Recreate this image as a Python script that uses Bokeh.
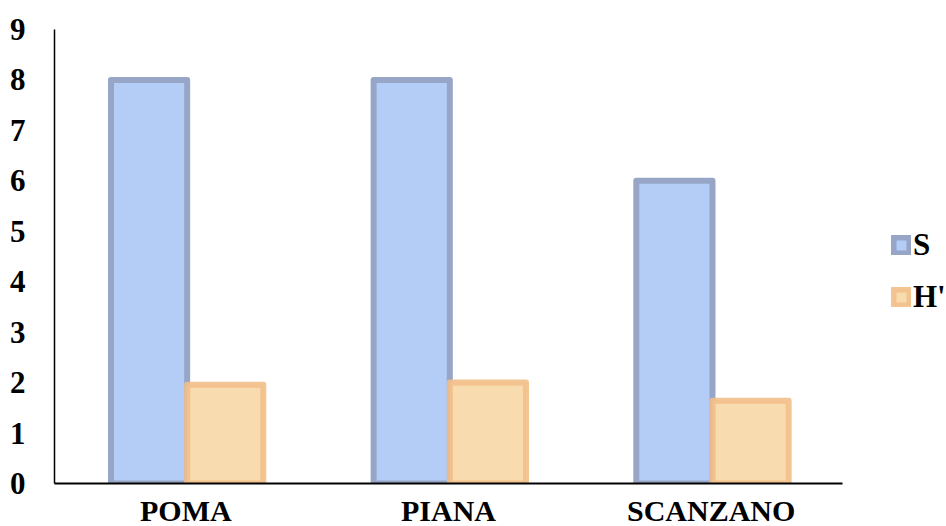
from bokeh.plotting import figure
from bokeh.models import Range1d, FactorRange, Legend, LegendItem, ColumnDataSource, FixedTicker
from bokeh.transform import dodge
from bokeh.embed import file_html
from bokeh.resources import INLINE

categories = ["POMA", "PIANA", "SCANZANO"]
s_values = [8, 8, 6]
h_values = [1.96, 2.0, 1.64]
y_ticks = [0, 1, 2, 3, 4, 5, 6, 7, 8, 9]

src = ColumnDataSource(dict(cat=categories, s=s_values, h=h_values))

p = figure(frame_width=788, frame_height=454, x_range=FactorRange(*categories, range_padding=0),
           y_range=Range1d(0, 9), output_backend="svg", toolbar_location=None,
           min_border_left=54, min_border_right=0, min_border_top=29, min_border_bottom=0)
p.outline_line_color = None
p.xgrid.grid_line_color = None
p.ygrid.grid_line_color = None
p.background_fill_color = "white"
p.border_fill_color = "white"

r1 = p.vbar(x=dodge("cat", -0.14, range=p.x_range), top="s", width=0.29, source=src,
            fill_color="#b3cdf7", line_color="#97a6c6", line_width=6, line_join="round")
r2 = p.vbar(x=dodge("cat", 0.15, range=p.x_range), top="h", width=0.29, source=src,
            fill_color="#f7d8a6", fill_alpha=0.9, line_color="#f2bf8a", line_alpha=0.9,
            line_width=6, line_join="round")

font = "Liberation Serif"
for ax in (p.xaxis[0], p.yaxis[0]):
    ax.major_label_text_font = font
    ax.major_label_text_font_style = "bold"
    ax.major_label_text_font_size = "31px"
    ax.major_label_text_color = "black"
    ax.axis_line_color = "black"
    ax.axis_line_width = 2
    ax.major_tick_line_color = None
    ax.minor_tick_line_color = None
p.yaxis[0].ticker = FixedTicker(ticks=y_ticks)
p.yaxis[0].major_label_standoff = 23
p.yaxis[0].axis_line_width = 1.5
p.xaxis[0].major_label_text_font_size = "30px"
p.xaxis[0].major_label_standoff = 4

legend = Legend(items=[LegendItem(label="S", renderers=[r1]),
                       LegendItem(label="H'", renderers=[r2])],
                location=(49, 168), orientation="vertical",
                label_text_font=font, label_text_font_style="bold",
                label_text_color="black",
                label_text_font_size="31px", glyph_width=20, glyph_height=20,
                label_height=20, spacing=16, label_standoff=2, border_line_color=None,
                background_fill_alpha=0, padding=0, margin=0)
p.add_layout(legend, "right")

open("out.html", "w").write(file_html(p, INLINE))
